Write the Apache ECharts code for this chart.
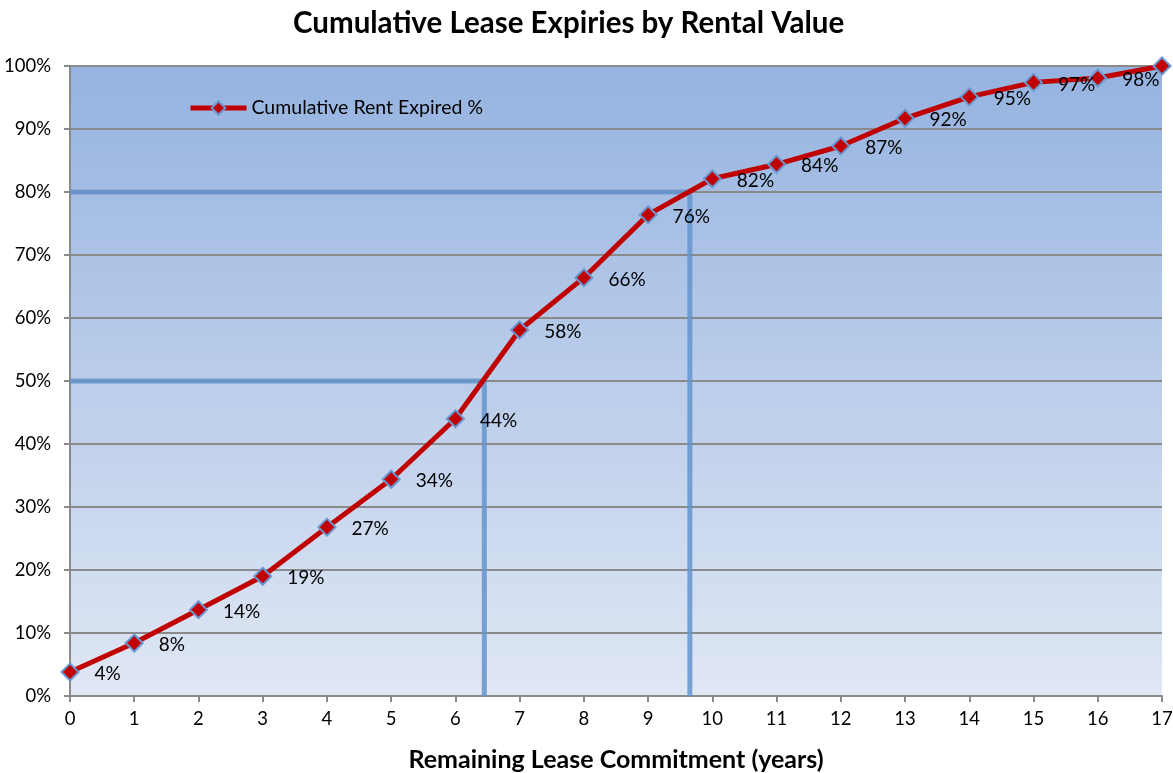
<!DOCTYPE html>
<html>
<head>
<meta charset="utf-8">
<script src="https://cdn.jsdelivr.net/npm/echarts@6/dist/echarts.min.js"></script>
<style>html,body{margin:0;padding:0;background:#fff}#c{width:1173px;height:773px}</style>
</head>
<body>
<div id="c"></div>
<script>
const years = [0,1,2,3,4,5,6,7,8,9,10,11,12,13,14,15,16,17];
const cumulativeRent = [3.8, 8.4, 13.7, 19.0, 26.8, 34.4, 44.0, 58.1, 66.4, 76.4, 82.1, 84.4, 87.3, 91.7, 95.1, 97.4, 98.1, 100];
const seriesName = 'Cumulative Rent Expired %';
const ref50 = [[0, 50], [6.45, 50], [6.45, 0]];
const ref80 = [[0, 80], [9.65, 80], [9.65, 0]];
const yTicks = [0,10,20,30,40,50,60,70,80,90,100];

const FONT = 'Lato, "Open Sans", sans-serif';
const chart = echarts.init(document.getElementById('c'), null, {renderer: 'canvas'});
const refStyle = {
  type: 'line', silent: true, symbol: 'none', z: 1,
  lineStyle: {color: 'rgba(100,148,205,0.85)', width: 5},
  animation: false
};
chart.setOption({
  animation: false,
  title: {
    text: 'Cumulative Lease Expiries by Rental Value',
    left: 288, top: 3,
    textStyle: {fontFamily: FONT, fontWeight: 'bold', fontSize: 29.5, color: '#000'}
  },
  legend: {
    data: [seriesName],
    left: 183, top: 93,
    itemWidth: 56, itemHeight: 17, itemGap: 4,
    lineStyle: {width: 5, color: '#c00000'},
    textStyle: {fontFamily: FONT, fontSize: 19.5, color: '#000'}
  },
  grid: {left: 70, right: 11, top: 66, bottom: 77, show: true,
    outerBoundsMode: 'none', containLabel: false,
    borderWidth: 0,
    backgroundColor: new echarts.graphic.LinearGradient(0, 0, 0, 1, [
      {offset: 0, color: '#95b3e0'}, {offset: 1, color: '#e0e7f4'}
    ])
  },
  xAxis: {
    type: 'value', min: 0, max: 17, interval: 1,
    name: 'Remaining Lease Commitment (years)',
    nameLocation: 'middle', nameGap: 51,
    nameTextStyle: {fontFamily: FONT, fontWeight: 'bold', fontSize: 25, color: '#000'},
    axisLine: {show: true, lineStyle: {color: '#8a8a8a', width: 2}},
    axisTick: {show: true, length: 6, lineStyle: {color: '#8a8a8a', width: 2}},
    axisLabel: {fontFamily: FONT, fontSize: 18.5, color: '#000', margin: 14},
    splitLine: {show: false}
  },
  yAxis: {
    type: 'value', min: 0, max: 100, interval: 10,
    axisLine: {show: true, lineStyle: {color: '#8a8a8a', width: 2}},
    axisTick: {show: true, length: 6, lineStyle: {color: '#8a8a8a', width: 2}},
    axisLabel: {fontFamily: FONT, fontSize: 18.5, color: '#000', margin: 19,
      formatter: v => yTicks.includes(v) ? v + '%' : ''},
    splitLine: {show: true, lineStyle: {color: '#8a8a8a', width: 2}}
  },
  series: [
    Object.assign({name: 'ref50', data: ref50}, refStyle),
    Object.assign({name: 'ref80', data: ref80}, refStyle),
    {
      name: seriesName, type: 'line', z: 5,
      data: years.map((x, i) => {
        const item = {value: [x, cumulativeRent[i]]};
        if (i === years.length - 1) item.label = {show: false};
        return item;
      }),
      symbol: 'diamond', symbolSize: 17,
      lineStyle: {color: '#c00000', width: 5},
      itemStyle: {color: '#c00000', borderColor: '#6a97d0', borderWidth: 2},
      label: {
        show: true, position: 'right', distance: 15, offset: [0, 2],
        fontFamily: FONT, fontSize: 19, color: '#000',
        formatter: p => Math.round(p.value[1]) + '%'
      }
    }
  ]
});
</script>
</body>
</html>
